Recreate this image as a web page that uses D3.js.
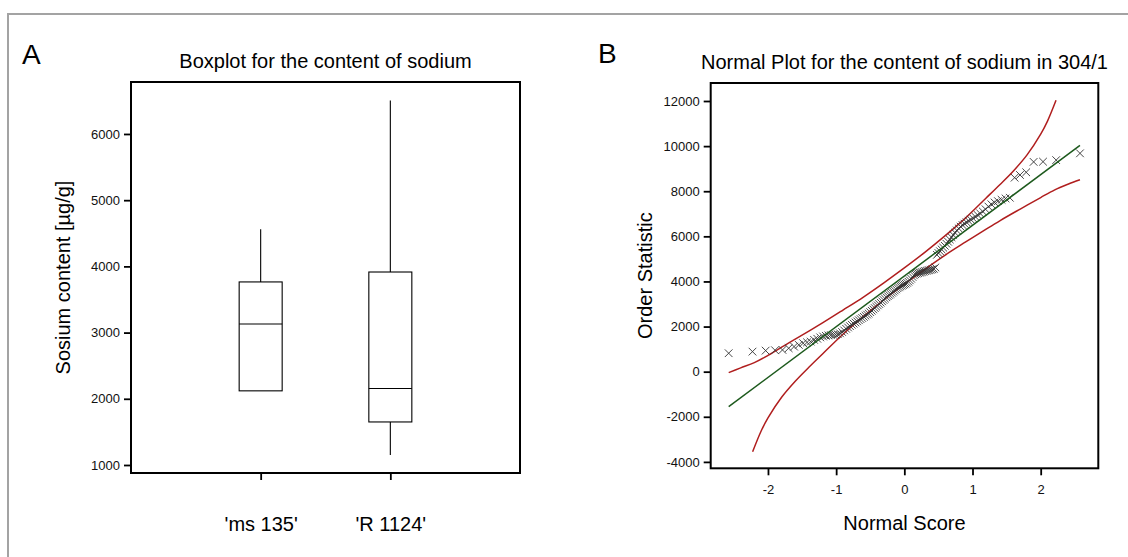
<!DOCTYPE html>
<html><head><meta charset="utf-8">
<script src="https://cdn.jsdelivr.net/npm/d3@7"></script>
<style>
html,body{margin:0;padding:0;background:#fff;}
svg{display:block;font-family:"Liberation Sans",Arial,Helvetica,sans-serif;}
</style></head><body>
<svg id="chart" width="1128" height="557"></svg>
<script>
// ---------- Panel A: boxplot data ----------
const boxCategories = ["'ms 135'", "'R 1124'"];
const boxMin    = [2120, 1150];
const boxQ1     = [2120, 1650];
const boxMedian = [3130, 2155];
const boxQ3     = [3765, 3915];
const boxMax    = [4560, 6505];
const boxYTicks = [1000, 2000, 3000, 4000, 5000, 6000];

// ---------- Panel B: normal plot data ----------
// sorted sodium contents (order statistics)
const orderStatistics = [
  818, 889, 933, 950, 964, 1040, 1111, 1187, 1262, 1300,
  1333, 1409, 1460, 1520, 1560, 1590, 1610, 1620, 1630, 1640,
  1660, 1700, 1760, 1830, 1900, 1960, 2020, 2080, 2130, 2180,
  2230, 2280, 2330, 2380, 2430, 2480, 2530, 2580, 2640, 2700,
  2760, 2820, 2880, 2940, 3000, 3060, 3120, 3180, 3240, 3300,
  3350, 3400, 3450, 3500, 3550, 3600, 3650, 3700, 3740, 3780,
  3810, 3840, 3870, 3900, 3940, 3990, 4050, 4120, 4200, 4270,
  4320, 4350, 4370, 4390, 4400, 4420, 4440, 4460, 4470, 4490,
  4500, 4520, 4540, 4560, 4620, 5180, 5260, 5340, 5420, 5500,
  5580, 5670, 5760, 5860, 5960, 6060, 6160, 6260, 6350, 6430,
  6500, 6560, 6620, 6680, 6740, 6800, 6870, 6940, 7010, 7100,
  7200, 7320, 7420, 7500, 7560, 7620, 7680, 7710, 8600, 8720,
  8840, 9300, 9310, 9380, 9680
];
const fitLineScores = [-2.576, 2.576];
const fitLineValues = [-1550, 10030];
const upperBandScores = [-2.576, -2.4, -2.2, -2.0, -1.7, -1.4, -1.2, -0.9, -0.6, -0.3, 0, 0.3, 0.6, 0.9, 1.2, 1.4, 1.6, 1.8, 2.0, 2.1, 2.225];
const upperBandValues = [-40, 170, 400, 720, 1270, 1800, 2160, 2730, 3310, 3940, 4600, 5290, 6030, 6820, 7700, 8290, 8900, 9610, 10530, 11110, 12030];
const lowerBandScores = [-2.225, -2.1, -2.0, -1.8, -1.6, -1.4, -1.2, -0.9, -0.6, -0.3, 0, 0.3, 0.6, 0.9, 1.2, 1.4, 1.7, 2.0, 2.2, 2.4, 2.576];
const lowerBandValues = [-3550, -2630, -2050, -1135, -425, 194, 784, 1660, 2450, 3190, 3880, 4540, 5170, 5750, 6320, 6690, 7210, 7720, 8050, 8310, 8510];
const normalYTicks = [-4000, -2000, 0, 2000, 4000, 6000, 8000, 10000, 12000];
const normalXTicks = [-2, -1, 0, 1, 2];

// inverse standard normal CDF (Acklam) for Blom normal scores of ranks
function invNorm(p) {
  const a=[-3.969683028665376e+01,2.209460984245205e+02,-2.759285104469687e+02,1.383577518672690e+02,-3.066479806614716e+01,2.506628277459239e+00];
  const b=[-5.447609879822406e+01,1.615858368580409e+02,-1.556989798598866e+02,6.680131188771972e+01,-1.328068155288572e+01];
  const c=[-7.784894002430293e-03,-3.223964580411365e-01,-2.400758277161838e+00,-2.549732539343734e+00,4.374664141464968e+00,2.938163982698783e+00];
  const d=[7.784695709041462e-03,3.224671290700398e-01,2.445134137142996e+00,3.754408661907416e+00];
  const pl=0.02425, ph=1-pl; let q,r;
  if (p<pl){q=Math.sqrt(-2*Math.log(p));return (((((c[0]*q+c[1])*q+c[2])*q+c[3])*q+c[4])*q+c[5])/((((d[0]*q+d[1])*q+d[2])*q+d[3])*q+1);}
  if (p>ph){q=Math.sqrt(-2*Math.log(1-p));return -(((((c[0]*q+c[1])*q+c[2])*q+c[3])*q+c[4])*q+c[5])/((((d[0]*q+d[1])*q+d[2])*q+d[3])*q+1);}
  q=p-0.5;r=q*q;return (((((a[0]*r+a[1])*r+a[2])*r+a[3])*r+a[4])*r+a[5])*q/(((((b[0]*r+b[1])*r+b[2])*r+b[3])*r+b[4])*r+1);
}
const nObs = orderStatistics.length;
const normalPoints = orderStatistics.map((v, i) => ({z: invNorm((i + 1 - 0.375) / (nObs + 0.25)), v}));

const svg = d3.select("#chart");
const FONT = '"Liberation Sans",Arial,Helvetica,sans-serif';
const BIG = 20;

// outer frame (top and left edges)
svg.append("path").attr("d", "M8,557 L8,14 L1128,14").attr("fill", "none")
  .attr("stroke", "#a3a3a3").attr("stroke-width", 2);

// ================= Panel A =================
const aL = 131, aR = 520, aT = 82, aB = 473;
const xA = d3.scalePoint().domain(boxCategories).range([aL, aR]).padding(1);
const yA = d3.scaleLinear().domain([879, 6785]).range([aB, aT]);

svg.append("text").attr("x", 22).attr("y", 64).attr("font-size", 28).text("A");
svg.append("text").attr("x", (aL + aR) / 2).attr("y", 68).attr("text-anchor", "middle")
  .attr("font-size", BIG).text("Boxplot for the content of sodium");

const gAy = svg.append("g").attr("transform", `translate(${aL},0)`)
  .call(d3.axisLeft(yA).tickValues(boxYTicks).tickSize(7).tickPadding(4).tickFormat(d3.format("d")));
const gAx = svg.append("g").attr("transform", `translate(0,${aB})`)
  .call(d3.axisBottom(xA).tickSize(7).tickPadding(37));
[gAy, gAx].forEach(g => {
  g.select(".domain").remove();
  g.selectAll(".tick line").attr("stroke", "#000").attr("stroke-width", 1.8);
});
gAy.selectAll(".tick text").attr("font-size", 13).attr("font-family", FONT).attr("fill", "#111");
gAx.selectAll(".tick text").attr("font-size", BIG).attr("font-family", FONT).attr("fill", "#000");

svg.append("text").attr("transform", `translate(70,${(aT + aB) / 2}) rotate(-90)`)
  .attr("text-anchor", "middle").attr("font-size", BIG).text("Sosium content [µg/g]");

const boxW = 43;
const boxes = svg.append("g").selectAll("g").data(boxCategories).join("g");
boxes.append("line").attr("x1", d => xA(d)).attr("x2", d => xA(d))
  .attr("y1", (d, i) => yA(boxMax[i])).attr("y2", (d, i) => yA(boxQ3[i]))
  .attr("stroke", "#000").attr("stroke-width", 1.1);
boxes.append("line").attr("x1", d => xA(d)).attr("x2", d => xA(d))
  .attr("y1", (d, i) => yA(boxQ1[i])).attr("y2", (d, i) => yA(boxMin[i]))
  .attr("stroke", "#000").attr("stroke-width", 1.1);
boxes.append("rect").attr("x", d => xA(d) - boxW / 2).attr("width", boxW)
  .attr("y", (d, i) => yA(boxQ3[i])).attr("height", (d, i) => yA(boxQ1[i]) - yA(boxQ3[i]))
  .attr("fill", "none").attr("stroke", "#000").attr("stroke-width", 1.1);
boxes.append("line").attr("x1", d => xA(d) - boxW / 2).attr("x2", d => xA(d) + boxW / 2)
  .attr("y1", (d, i) => yA(boxMedian[i])).attr("y2", (d, i) => yA(boxMedian[i]))
  .attr("stroke", "#000").attr("stroke-width", 1.1);

svg.append("rect").attr("x", aL).attr("y", aT).attr("width", aR - aL).attr("height", aB - aT)
  .attr("fill", "none").attr("stroke", "#000").attr("stroke-width", 2);

// ================= Panel B =================
const bL = 710.7, bR = 1098.3, bT = 83, bB = 468.3;
const xB = d3.scaleLinear().domain([-2.84, 2.845]).range([bL, bR]);
const yB = d3.scaleLinear().domain([-4284, 12798]).range([bB, bT]);

svg.append("text").attr("x", 598).attr("y", 63).attr("font-size", 28).text("B");
svg.append("text").attr("x", (bL + bR) / 2).attr("y", 69).attr("text-anchor", "middle")
  .attr("font-size", BIG).text("Normal Plot for the content of sodium in 304/1");

const gBy = svg.append("g").attr("transform", `translate(${bL},0)`)
  .call(d3.axisLeft(yB).tickValues(normalYTicks).tickSize(7).tickPadding(4).tickFormat(d3.format("d")));
const gBx = svg.append("g").attr("transform", `translate(0,${bB})`)
  .call(d3.axisBottom(xB).tickValues(normalXTicks).tickSize(7).tickPadding(9).tickFormat(d3.format("d")));
[gBy, gBx].forEach(g => {
  g.select(".domain").remove();
  g.selectAll(".tick line").attr("stroke", "#000").attr("stroke-width", 1.8);
  g.selectAll(".tick text").attr("font-size", 13).attr("font-family", FONT).attr("fill", "#111");
});
gBy.selectAll(".tick text").text(d => d < 0 ? "-" + Math.abs(d) : d);
gBx.selectAll(".tick text").text(d => d < 0 ? "-" + Math.abs(d) : d);

svg.append("text").attr("transform", `translate(652,${(bT + bB) / 2}) rotate(-90)`)
  .attr("text-anchor", "middle").attr("font-size", BIG).text("Order Statistic");
svg.append("text").attr("x", (bL + bR) / 2).attr("y", 530).attr("text-anchor", "middle")
  .attr("font-size", BIG).text("Normal Score");

const lineGen = d3.line().x(d => xB(d[0])).y(d => yB(d[1])).curve(d3.curveCatmullRom.alpha(0.5));
const red = "#b01e1e", green = "#1d5a1d";
svg.append("path").datum(upperBandScores.map((z, i) => [z, upperBandValues[i]]))
  .attr("d", lineGen).attr("fill", "none").attr("stroke", red).attr("stroke-width", 1.5);
svg.append("path").datum(lowerBandScores.map((z, i) => [z, lowerBandValues[i]]))
  .attr("d", lineGen).attr("fill", "none").attr("stroke", red).attr("stroke-width", 1.5);

const xSym = d3.symbol().type(d3.symbolX || d3.symbolCross).size(40);
svg.append("g").selectAll("path").data(normalPoints).join("path")
  .attr("transform", d => `translate(${xB(d.z)},${yB(d.v)})`)
  .attr("d", xSym).attr("fill", "none").attr("stroke", "#333").attr("stroke-width", 0.9);

svg.append("path").datum(fitLineScores.map((z, i) => [z, fitLineValues[i]]))
  .attr("d", d3.line().x(d => xB(d[0])).y(d => yB(d[1])))
  .attr("fill", "none").attr("stroke", green).attr("stroke-width", 1.5);

svg.append("rect").attr("x", bL).attr("y", bT).attr("width", bR - bL).attr("height", bB - bT)
  .attr("fill", "none").attr("stroke", "#000").attr("stroke-width", 2);
</script>
</body></html>
